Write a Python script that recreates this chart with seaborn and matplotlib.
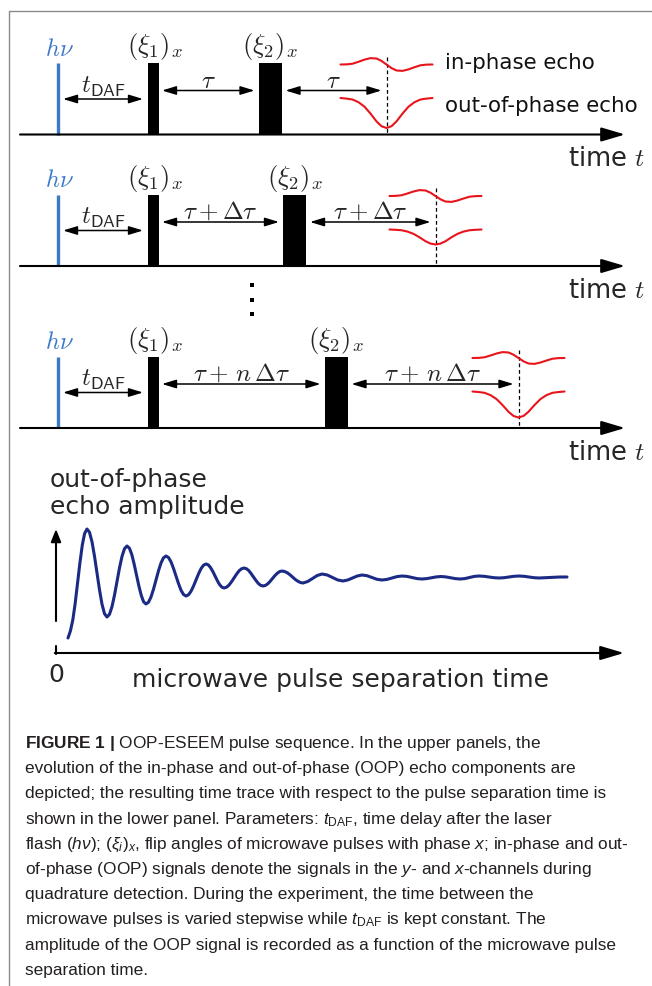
import numpy as np
import matplotlib
matplotlib.use("Agg")
import matplotlib.pyplot as plt
import seaborn as sns
from matplotlib import font_manager

sns.set_theme(style="white")
plt.rcParams["font.family"] = ["DejaVu Sans"]

# ---------------- data ----------------
tau_labels = [r"$\tau$", r"$\tau+\Delta\tau$", r"$\tau+\,n\,\Delta\tau$"]
t_daf = 9.6                          # delay after laser flash (a.u.)
tau_values = [11.65, 14.1, 18.25]    # pulse separation in each row (a.u.)
pulse_widths = [1.1, 2.3]            # (xi_1)_x, (xi_2)_x
pulse_labels = [r"$(\xi_{\mathsf{1}})_x$", r"$(\xi_{\mathsf{2}})_x$"]

echo_t = [-4.6, -4.0, -3.4, -2.8, -2.2, -1.6, -1.0, -0.5, 0.0,
          0.5, 1.0, 1.6, 2.2, 2.8, 3.4, 4.0, 4.6]
inphase_shape = [0, 0.02, 0.12, 0.42, 0.75, 0.98, 0.92, 0.55, 0,
                 -0.55, -0.92, -0.98, -0.75, -0.42, -0.12, -0.02, 0]
oop_shape = [0, -0.02, -0.05, -0.14, -0.29, -0.52, -0.78, -0.94, -1.0,
             -0.94, -0.78, -0.52, -0.29, -0.14, -0.05, -0.02, 0]
inphase_amp = [0.65, 0.6, 0.6]
oop_amp = [3.0, 1.5, 2.6]
echo_names = ["in-phase echo", "out-of-phase echo"]

osc_time = [1.3, 1.54, 1.78, 2.01, 2.25, 2.49, 2.73, 2.96,
            3.2, 3.45, 3.7, 3.95, 4.2, 4.45, 4.7, 4.95,
            5.2, 5.45, 5.7, 5.95, 6.2, 6.45, 6.7, 6.95,
            7.2, 7.44, 7.68, 7.91, 8.15, 8.39, 8.63, 8.86,
            9.1, 9.35, 9.6, 9.85, 10.1, 10.35, 10.6, 10.85,
            11.1, 11.35, 11.6, 11.85, 12.1, 12.35, 12.6, 12.85,
            13.1, 13.35, 13.6, 13.85, 14.1, 14.35, 14.6, 14.85,
            15.1, 15.33, 15.55, 15.78, 16.0, 16.23, 16.45, 16.68,
            16.9, 17.15, 17.4, 17.65, 17.9, 18.15, 18.4, 18.65,
            18.9, 19.14, 19.38, 19.61, 19.85, 20.09, 20.33, 20.56,
            20.8, 21.04, 21.28, 21.51, 21.75, 21.99, 22.23, 22.46,
            22.7, 22.96, 23.23, 23.49, 23.75, 24.01, 24.28, 24.54,
            24.8, 25.275, 25.75, 26.225, 26.7, 27.225, 27.75, 28.275, 28.8,
            29.275, 29.75, 30.225, 30.7, 31.2, 31.7, 32.2, 32.7, 33.2, 33.7, 34.2, 34.7,
            35.2, 35.7, 36.2, 36.7, 37.175, 37.65, 38.125, 38.6, 39.075, 39.55, 40.025,
            40.5, 40.975, 41.45, 41.925, 42.4, 42.9, 43.4, 43.9, 44.4, 44.9, 45.4, 45.9,
            46.4, 46.9, 47.4, 47.9, 48.4, 49.1, 49.8, 50.5, 51.2]
osc_amp = [1.5, 2.2, 3.3, 4.9, 6.95, 9.0, 10.8, 11.95,
           12.4, 12.07, 11.12, 9.68, 8.0, 6.32, 4.88, 3.93,
           3.6, 3.87, 4.64, 5.79, 7.15, 8.51, 9.66, 10.43,
           10.7, 10.48, 9.85, 8.91, 7.8, 6.69, 5.75, 5.12,
           4.9, 5.08, 5.6, 6.38, 7.3, 8.22, 9.0, 9.52,
           9.7, 9.55, 9.12, 8.46, 7.7, 6.94, 6.28, 5.85,
           5.7, 5.82, 6.17, 6.69, 7.3, 7.91, 8.43, 8.78,
           8.9, 8.81, 8.55, 8.16, 7.7, 7.24, 6.85, 6.59,
           6.5, 6.58, 6.79, 7.12, 7.5, 7.88, 8.21, 8.42,
           8.5, 8.43, 8.24, 7.94, 7.6, 7.26, 6.96, 6.77,
           6.7, 6.76, 6.92, 7.16, 7.45, 7.74, 7.98, 8.14,
           8.2, 8.15, 8.02, 7.83, 7.6, 7.37, 7.18, 7.05,
           7.0, 7.15, 7.45, 7.75, 7.9, 7.8, 7.55, 7.3, 7.2,
           7.3, 7.5, 7.7, 7.8, 7.73, 7.55, 7.37, 7.3, 7.36, 7.5, 7.64, 7.7,
           7.66, 7.55, 7.44, 7.4, 7.44, 7.52, 7.61, 7.65, 7.61, 7.52, 7.44,
           7.4, 7.44, 7.55, 7.66, 7.7, 7.67, 7.6, 7.53, 7.5, 7.53, 7.6, 7.67,
           7.7, 7.67, 7.6, 7.53, 7.5, 7.53, 7.57, 7.6, 7.6]

caption_lines = [
    r"$\mathbf{FIGURE\ 1\ |}$ OOP-ESEEM pulse sequence. In the upper panels, the",
    "evolution of the in-phase and out-of-phase (OOP) echo components are",
    "depicted; the resulting time trace with respect to the pulse separation time is",
    r"shown in the lower panel. Parameters: $t_{\mathrm{DAF}}$, time delay after the laser",
    r"flash ($h\nu$); $(\xi_i)_x$, flip angles of microwave pulses with phase $x$; in-phase and out-",
    r"of-phase (OOP) signals denote the signals in the $y$- and $x$-channels during",
    "quadrature detection. During the experiment, the time between the",
    r"microwave pulses is varied stepwise while $t_{\mathrm{DAF}}$ is kept constant. The",
    "amplitude of the OOP signal is recorded as a function of the microwave pulse",
    "separation time.",
]

# ---------------- fonts ----------------
names = {f.name for f in font_manager.fontManager.ttflist}
cap_font = "Liberation Sans Narrow" if "Liberation Sans Narrow" in names else "Liberation Sans"
plt.rcParams["mathtext.rm"] = cap_font
plt.rcParams["mathtext.it"] = cap_font + ":italic"
plt.rcParams["mathtext.bf"] = cap_font + ":bold"
plt.rcParams["mathtext.sf"] = cap_font

# ---------------- layout ----------------
W, H = 652, 986
fig = plt.figure(figsize=(W / 100, H / 100), dpi=100)
ax = fig.add_axes([0, 0, 1, 1])
ax.set_xlim(0, W)
ax.set_ylim(H, 0)
ax.axis("off")

X0 = 57.5          # laser flash position (px)
PX = 10.0          # px per time unit
row_axis_y = [134.5, 266, 428]
pulse_h = 71.5
BLUE = "#3d7ac6"
RED = "#e8141c"
NAVY = "#1b2a84"

# frame
ax.plot([9, 9], [11, H], color="#8a8a8a", lw=1.0)
ax.plot([9, W], [11, 11], color="#8a8a8a", lw=1.0)

def double_arrow(x1, x2, y):
    ax.annotate("", xy=(x2, y), xytext=(x1, y),
                arrowprops=dict(arrowstyle="<|-|>,head_length=0.85,head_width=0.26",
                                mutation_scale=10, lw=1.1, color="black",
                                shrinkA=0, shrinkB=0))

def axis_arrow(x1, y1, x2, y2, hl=1.45, hw=0.43):
    ax.annotate("", xy=(x2, y2), xytext=(x1, y1),
                arrowprops=dict(arrowstyle=f"-|>,head_length={hl},head_width={hw}",
                                mutation_scale=10, lw=1.5, color="black",
                                shrinkA=0, shrinkB=0))

for i, (ay, tau) in enumerate(zip(row_axis_y, tau_values)):
    p1 = X0 + t_daf * PX
    p2 = p1 + tau * PX
    echo = p2 + tau * PX
    w1, w2 = pulse_widths[0] * PX, pulse_widths[1] * PX

    axis_arrow(20, ay, 625, ay)
    ax.plot([X0, X0], [ay - pulse_h, ay], color=BLUE, lw=2.4, solid_capstyle="butt")
    ax.bar([p1, p2], [-pulse_h, -pulse_h], width=[w1, w2], bottom=ay,
           color="black", edgecolor="none")
    ax.plot([echo, echo], [ay - 78, ay], color="black", lw=0.9, ls=(0, (3, 2.2)))

    double_arrow(X0 + 5.5, p1 - w1 / 2 - 5, ay - 35.5)
    double_arrow(p1 + w1 / 2 + 3, p2 - w2 / 2 - 4, ay - 44)
    double_arrow(p2 + w2 / 2 + 4, echo - 5, ay - 44)

    ax.text(59, ay - 86, r"$h\nu$", color=BLUE, fontsize=17.5, ha="center", va="center",
            math_fontfamily="cm")
    ax.text(p1 + 1.5, ay - 88, pulse_labels[0], fontsize=19, ha="center", va="center",
            math_fontfamily="cm")
    ax.text(p2, ay - 88, pulse_labels[1], fontsize=19, ha="center", va="center",
            math_fontfamily="cm")
    ax.text(103, ay - 48, r"$t_{\mathsf{DAF}}$", fontsize=18, ha="center", va="center",
            math_fontfamily="cm")
    midA = (p1 + w1 / 2 + 3 + p2 - w2 / 2 - 4) / 2
    midB = (p2 + w2 / 2 + 4 + echo - 5) / 2
    for mx in (midA, midB):
        ax.text(mx, ay - 54, tau_labels[i], fontsize=18, ha="center", va="center",
                math_fontfamily="cm")
    ax.text(645, ay + 25, r"time $t$", fontsize=18.5, ha="right", va="center",
            math_fontfamily="cm")

    ex = echo + np.array(echo_t) * PX
    sns.lineplot(x=ex, y=(ay - 70) - inphase_amp[i] * PX * np.array(inphase_shape),
                 ax=ax, color=RED, lw=1.5, sort=False, estimator=None)
    sns.lineplot(x=ex, y=(ay - 36.5) - oop_amp[i] * PX * np.array(oop_shape),
                 ax=ax, color=RED, lw=1.5, sort=False, estimator=None)

ax.text(445, 63, echo_names[0], fontsize=15.4, ha="left", va="center", color="#111111")
ax.text(445, 106, echo_names[1], fontsize=15.4, ha="left", va="center", color="#111111")

# vertical dots
ax.scatter([252, 252, 252], [285, 299.5, 314], marker="s", s=9, color="black", lw=0)

# ---------------- lower panel ----------------
ax.text(50, 480, "out-of-phase", fontsize=18, ha="left", va="center")
ax.text(50, 507, "echo amplitude", fontsize=18, ha="left", va="center")
axis_arrow(56, 621, 56, 529, hl=0.75, hw=0.3)
ax.plot([55.5, 55.5], [646, 653.5], color="black", lw=1.5)
axis_arrow(54.8, 653, 624, 653)
ax.text(56, 675, "0", fontsize=18, ha="center", va="center")
ax.text(340, 680, "microwave pulse separation time", fontsize=18, ha="center", va="center")

sns.lineplot(x=55 + np.array(osc_time) * PX, y=653 - np.array(osc_amp) * PX, ax=ax,
             color=NAVY, lw=2.2, sort=False, estimator=None)

# ---------------- caption ----------------
cap_texts = []
for k, line in enumerate(caption_lines):
    t = ax.text(25, 748 + 25.2 * k, line, fontsize=11, ha="left", va="baseline",
                color="#231f20", family=cap_font, math_fontfamily="custom")
    cap_texts.append(t)
renderer = fig.canvas.get_renderer()
wmax = max(t.get_window_extent(renderer).width for t in cap_texts)
scale = 603 / wmax
for t in cap_texts:
    t.set_fontsize(11 * scale)

fig.savefig("out.png", dpi=100)
